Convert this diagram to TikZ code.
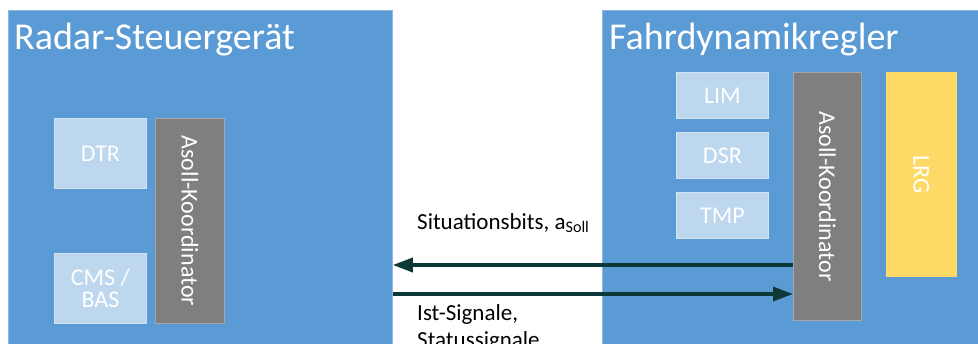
\documentclass[tikz,border=0pt]{standalone}
\usepackage{fontspec}
\setmainfont{Carlito}
\usetikzlibrary{arrows.meta}
\definecolor{unitblue}{HTML}{5B9BD5}
\definecolor{unitedge}{HTML}{8DB8E2}
\definecolor{modfill}{HTML}{BDD7EE}
\definecolor{modedge}{HTML}{D4E4F4}
\definecolor{coordgray}{HTML}{7F7F7F}
\definecolor{coordedge}{HTML}{A6A6A6}
\definecolor{lrgyellow}{HTML}{FFD966}
\definecolor{sigcolor}{HTML}{0D3838}
\tikzset{
  unit/.style={fill=unitblue, draw=unitedge, line width=0.8pt, inner sep=0pt, anchor=north west},
  unittitle/.style={text=white, font=\fontsize{38}{44}\selectfont, anchor=base west, inner sep=0pt},
  module/.style={fill=modfill, draw=modedge, line width=0.8pt, inner sep=0pt, anchor=north west,
    text=white, font=\fontsize{24}{24}\selectfont, align=center},
  coordbox/.style={fill=coordgray, draw=coordedge, line width=0.8pt, inner sep=0pt, anchor=north west},
  vlabel/.style={text=white, font=\fontsize{24}{24}\selectfont, rotate=-90, inner sep=0pt},
  signal/.style={draw=sigcolor, line width=3.5pt, -{Triangle[length=20pt, width=14pt]}},
  siglabel/.style={font=\fontsize{23}{27}\selectfont, anchor=base west, inner sep=0pt, align=left}
}
\begin{document}
\begin{tikzpicture}[x=1pt, y=-1pt]
\useasboundingbox (0,0) rectangle (978,343);
\clip (0,0) rectangle (978,343);
\fill[white] (0,0) rectangle (978,343);

% Radar-Steuergerät
\node[unit, minimum width=384pt, minimum height=345pt] (radar) at (8,9.5) {};
\node[unittitle] (radartitle) at (14,49) {Radar-Steuergerät};
\node[module, minimum width=92pt, minimum height=70pt] (dtr) at (54,118) {DTR};
\node[module, minimum width=92pt, minimum height=70pt] (cms) at (54,253) {CMS /\\[-2pt]BAS};
\node[coordbox, minimum width=69pt, minimum height=205pt] (rcoord) at (155,118) {};
\node[vlabel] (rcoordlabel) at (rcoord.center) {Asoll-Koordinator};

% Fahrdynamikregler
\node[unit, minimum width=380pt, minimum height=345pt] (fdr) at (602,9.5) {};
\node[unittitle] (fdrtitle) at (609,49) {Fahrdynamikregler};
\node[module, minimum width=92pt, minimum height=46pt] (lim) at (676,72) {LIM};
\node[module, minimum width=92pt, minimum height=46pt] (dsr) at (676,132) {DSR};
\node[module, minimum width=92pt, minimum height=46pt] (tmp) at (676,192) {TMP};
\node[coordbox, minimum width=68pt, minimum height=248pt] (fcoord) at (793,72) {};
\node[vlabel] (fcoordlabel) at (fcoord.center) {Asoll-Koordinator};
\node[coordbox, fill=lrgyellow, draw=lrgyellow, minimum width=70pt, minimum height=204pt] (lrg) at (886,72) {};
\node[vlabel] (lrglabel) at (lrg.center) {LRG};

% Signals between the two control units
\draw[signal] (fcoord.west |- 0,265) -- (radar.east |- 0,265);
\draw[signal] (radar.east |- 0,294) -- (fcoord.west |- 0,294);
\node[siglabel] (up) at (417,229) {Situationsbits, a\textsubscript{Soll}};
\node[siglabel] (down) at (417,347) {Ist-Signale,\\Statussignale};
\end{tikzpicture}
\end{document}
